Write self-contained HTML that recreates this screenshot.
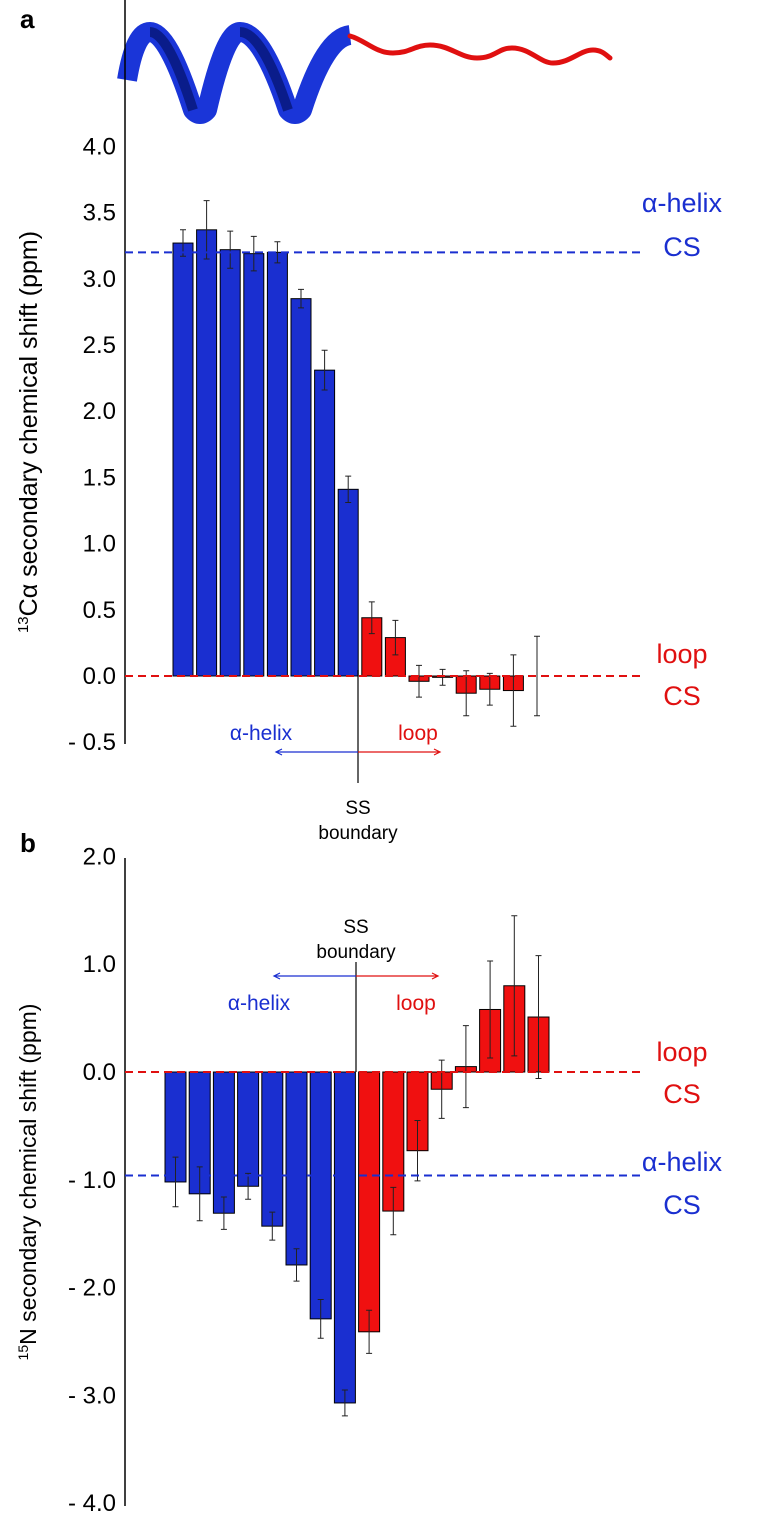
<!DOCTYPE html>
<html><head><meta charset="utf-8"><style>
body{margin:0;background:#fff;}
svg text{font-family:"Liberation Sans","DejaVu Sans",sans-serif;}
</style></head><body>
<svg id="chart" width="774" height="1528" viewBox="0 0 774 1528" xmlns="http://www.w3.org/2000/svg">
<g>
<path d="M127,80 Q135,32 150,32 Q168,32 193,110 Q200,118 207,110 Q225,32 240,32 Q262,32 288,110 Q295,118 302,110 Q325,38 350,35" fill="none" stroke="#1a35d8" stroke-width="20" stroke-linejoin="round"/>
<path d="M150,32 Q168,32 193,110" fill="none" stroke="#0a1c8a" stroke-width="10"/>
<path d="M240,32 Q262,32 288,110" fill="none" stroke="#0a1c8a" stroke-width="10"/>
<path d="M350,36 C365,40 375,53 393,53 C410,53 415,45 430,45 C450,45 460,58 477,58 C495,58 498,48 512,48 C530,48 540,63 553,63 C570,63 580,50 593,50 C602,50 606,55 610,58" fill="none" stroke="#e01010" stroke-width="5" stroke-linecap="round"/>
</g>
<text x="20" y="28" font-size="26" font-weight="bold">a</text>
<text x="20" y="852" font-size="26" font-weight="bold">b</text>
<g id="pa"></g>
<g id="pb"></g>
<text transform="translate(37,432) rotate(-90)" text-anchor="middle" font-size="25"><tspan font-size="15" dy="-9">13</tspan><tspan dy="9">Cα secondary chemical shift (ppm)</tspan></text>
<text transform="translate(36,1182) rotate(-90)" text-anchor="middle" font-size="23"><tspan font-size="14" dy="-8">15</tspan><tspan dy="8">N secondary chemical shift (ppm)</tspan></text>
<g font-size="27" text-anchor="middle">
<text x="682" y="212" fill="#1a2fd0">α-helix</text>
<text x="682" y="256" fill="#1a2fd0">CS</text>
<text x="682" y="663" fill="#e01010">loop</text>
<text x="682" y="705" fill="#e01010">CS</text>
<text x="682" y="1061" fill="#e01010">loop</text>
<text x="682" y="1103" fill="#e01010">CS</text>
<text x="682" y="1171" fill="#1a2fd0">α-helix</text>
<text x="682" y="1214" fill="#1a2fd0">CS</text>
</g>
</svg>
<script>
const catsA = [1,2,3,4,5,6,7,8,9,10,11,12,13,14,15,16];
const valsA = [3.27,3.37,3.22,3.19,3.2,2.85,2.31,1.41,0.44,0.29,-0.04,-0.01,-0.13,-0.1,-0.11,0.0];
const errsA = [0.1,0.22,0.14,0.13,0.08,0.07,0.15,0.1,0.12,0.13,0.12,0.06,0.17,0.12,0.27,0.3];
const ticksA = [4.0,3.5,3.0,2.5,2.0,1.5,1.0,0.5,0.0,-0.5];
const valsB = [-1.02,-1.13,-1.31,-1.06,-1.43,-1.79,-2.29,-3.07,-2.41,-1.29,-0.73,-0.16,0.05,0.58,0.8,0.51];
const errsB = [0.23,0.25,0.15,0.12,0.13,0.15,0.18,0.12,0.2,0.22,0.28,0.27,0.38,0.45,0.65,0.57];
const ticksB = [2.0,1.0,0.0,-1.0,-2.0,-3.0,-4.0];
const helixCount = 8;
const NS="http://www.w3.org/2000/svg";
function mk(p,tag,a){const e=document.createElementNS(NS,tag);for(const k in a)e.setAttribute(k,a[k]);p.appendChild(e);return e;}
function panel(g,vals,errs,ticks,y0,ppu,x0,pitch,bw,axTop,axBot,helixCS,ss){
  const y=v=>y0-v*ppu;
  const ax=mk(g,'line',{x1:125,x2:125,y1:axTop,y2:axBot,stroke:'#000','stroke-width':1.5});
  
  
  ticks.forEach(t=>{
    const tx=mk(g,'text',{x:116,y:y(t)+8,'font-size':24,'text-anchor':'end'});
    tx.textContent=(t<0?'- '+Math.abs(t).toFixed(1):t.toFixed(1));
    
    
  });
  vals.forEach((v,i)=>{
    const x=x0+i*pitch;
    const r=mk(g,'rect',{x:x,y:Math.min(y(v),y(0)),width:bw,height:Math.abs(y(v)-y(0)),fill:i<helixCount?'#1a2fd0':'#f01010',stroke:'#000','stroke-width':1});
    
    
    const cx=x+bw/2;
    const e=mk(g,'path',{d:`M${cx},${y(v+errs[i])}V${y(v-errs[i])}M${cx-3},${y(v+errs[i])}h6M${cx-3},${y(v-errs[i])}h6`,stroke:'#222','stroke-width':1,fill:'none'});
    
    
  });
  const l1=mk(g,'line',{x1:125,x2:640,y1:y(0),y2:y(0),stroke:'#e01010','stroke-width':2,'stroke-dasharray':'8,5'});
  
  
  const l2=mk(g,'line',{x1:125,x2:640,y1:y(helixCS),y2:y(helixCS),stroke:'#1a2fd0','stroke-width':2,'stroke-dasharray':'8,5'});
  
  
  const a=mk(g,'g',{});
  
  
  mk(a,'line',{x1:ss.x,x2:ss.x,y1:ss.l1,y2:ss.l2,stroke:'#000','stroke-width':1.2});
  mk(a,'path',{d:`M${ss.x},${ss.ay}H${ss.x-82}m6,-3l-6,3l6,3`,stroke:'#1a2fd0',fill:'none','stroke-width':1.2});
  mk(a,'path',{d:`M${ss.x},${ss.ay}H${ss.x+82}m-6,-3l6,3l-6,3`,stroke:'#e01010',fill:'none','stroke-width':1.2});
  let t=mk(a,'text',{x:ss.x-97,y:ss.ty,'font-size':21,fill:'#1a2fd0','text-anchor':'middle'});t.textContent='α-helix';
  t=mk(a,'text',{x:ss.x+60,y:ss.ty,'font-size':21,fill:'#e01010','text-anchor':'middle'});t.textContent='loop';
  t=mk(a,'text',{x:ss.x,y:ss.sy,'font-size':19,'text-anchor':'middle'});t.textContent='SS';
  t=mk(a,'text',{x:ss.x,y:ss.sy+25,'font-size':19,'text-anchor':'middle'});t.textContent='boundary';
}
panel(document.getElementById('pa'),valsA,errsA,ticksA,676,132.4,173,23.6,20,0,744,3.2,{x:358,l1:670,l2:783,ay:752,ty:740,sy:814});
panel(document.getElementById('pb'),valsB,errsB,ticksB,1072,107.8,165,24.2,21,858,1506,-0.96,{x:356,l1:962,l2:1072,ay:976,ty:1010,sy:933});
</script>
</body></html>
